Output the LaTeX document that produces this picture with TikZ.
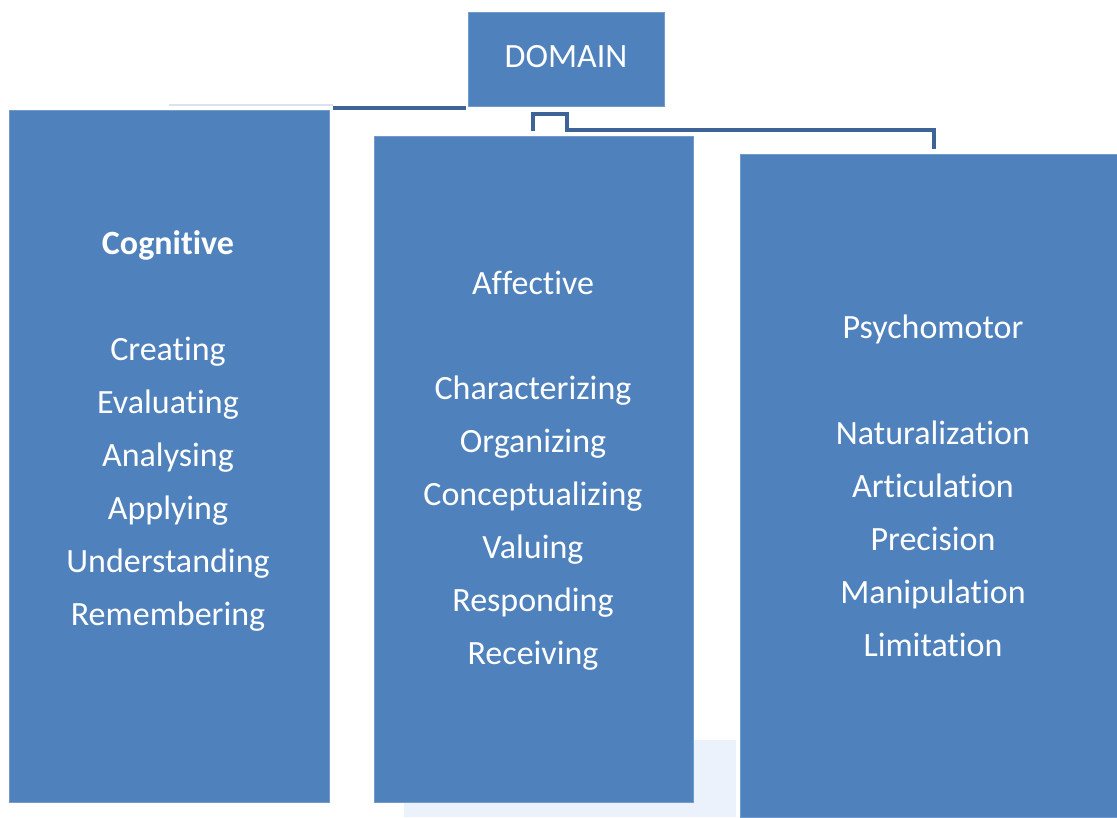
\documentclass[tikz,border=0pt]{standalone}
\usepackage{fontspec}
\setmainfont{Carlito}
% zero kern that keeps letter pairs such as "ti" and "ff" as separate glyphs
\newcommand\nolig{\kern0pt{}}
\definecolor{boxblue}{HTML}{4F81BD}
\definecolor{linkblue}{HTML}{3E6497}
\definecolor{faintline}{HTML}{DCE2EC}
\definecolor{haze}{HTML}{EBF2FB}
\tikzset{
  panel/.style={fill=boxblue, draw=boxblue!80!white, line width=0.6pt},
  label/.style={text=white, font=\fontsize{34}{40}\selectfont, anchor=base, inner sep=0pt},
  link/.style={draw=linkblue, line width=4.5pt, line join=miter},
}
\begin{document}
\begin{tikzpicture}[x=1pt,y=-1pt]
  \useasboundingbox[fill=white] (0,0) rectangle (1117,817);

  % light backdrop near the bottom
  \fill[haze] (404,740) rectangle (736,817);

  % boxes
  \path[panel] (468,12) rectangle (664,106);
  \node[label] (domain) at (566,67) {DOMAIN};
  \path[panel] (9,110) rectangle (329,802);
  \path[panel] (374,136) rectangle (693,802);
  \path[panel] (740,154) rectangle (1117,817);

  \coordinate (cogtop) at (169,105);
  \coordinate (cogjoin) at (333,105);
  \coordinate (domleft) at (466,108);
  \coordinate (afftop) at (533,131);
  \coordinate (psytop) at (934,149);

  % connectors
  \draw[faintline, line width=2pt] (cogtop) -- (cogjoin);
  \draw[link] (cogjoin |- domleft) -- (domleft);
  \draw[link] (afftop) -- (533,114) -- (567,114) -- (567,130) -- (934,130) -- (psytop);

  % Cognitive
  \node[label, font=\fontsize{34}{40}\selectfont\bfseries] (cog) at (168,254) {Cognit\nolig ive};
  \node[label] (c1) at (168,360) {Creat\nolig ing};
  \node[label] (c2) at (168,413) {Evaluat\nolig ing};
  \node[label] (c3) at (168,466) {Analysing};
  \node[label] (c4) at (168,519) {Applying};
  \node[label] (c5) at (168,572) {Understanding};
  \node[label] (c6) at (168,625) {Remembering};

  % Affective
  \node[label] (aff) at (533,294) {Af\nolig fect\nolig ive};
  \node[label] (a1) at (533,399) {Characterizing};
  \node[label] (a2) at (533,452) {Organizing};
  \node[label] (a3) at (533,505) {Conceptualizing};
  \node[label] (a4) at (533,558) {Valuing};
  \node[label] (a5) at (533,611) {Responding};
  \node[label] (a6) at (533,664) {Receiving};

  % Psychomotor
  \node[label] (psy) at (933,338) {Psychomotor};
  \node[label] (p1) at (933,444) {Naturalizat\nolig ion};
  \node[label] (p2) at (933,497) {Art\nolig iculat\nolig ion};
  \node[label] (p3) at (933,550) {Precision};
  \node[label] (p4) at (933,603) {Manipulat\nolig ion};
  \node[label] (p5) at (933,656) {Limitat\nolig ion};
\end{tikzpicture}
\end{document}
